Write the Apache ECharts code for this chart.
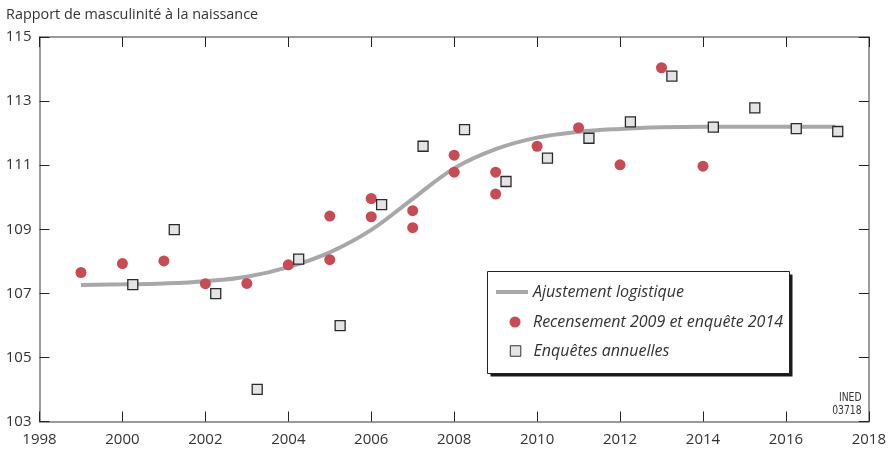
<!DOCTYPE html>
<html>
<head>
<meta charset="utf-8">
<script src="https://cdn.jsdelivr.net/npm/echarts@6/dist/echarts.min.js"></script>
<style>html,body{margin:0;padding:0;background:#fff}#c{width:889px;height:450px}</style>
</head>
<body>
<div id="c"></div>
<script>
var yTicks = [103, 105, 107, 109, 111, 113, 115];
var xTicks = [1998, 2000, 2002, 2004, 2006, 2008, 2010, 2012, 2014, 2016, 2018];

var fitYears = [1999, 2000, 2001, 2002, 2003, 2004, 2005, 2006, 2007, 2008, 2009, 2010, 2011, 2012, 2013, 2014, 2015, 2016, 2017.2];
var fitValues = [107.26, 107.28, 107.31, 107.38, 107.52, 107.82, 108.28, 108.98, 109.95, 110.9, 111.5, 111.86, 112.04, 112.13, 112.18, 112.2, 112.2, 112.2, 112.2];

var censusYears = [1999, 2000, 2001, 2002, 2003, 2004, 2005, 2005, 2006, 2006, 2007, 2007, 2008, 2008, 2009, 2009, 2010, 2011, 2012, 2013, 2014];
var censusValues = [107.65, 107.93, 108.01, 107.30, 107.31, 107.89, 109.41, 108.05, 109.96, 109.39, 109.58, 109.05, 111.31, 110.78, 110.78, 110.10, 111.59, 112.17, 111.01, 114.04, 110.97];

var surveyYears = [2000.25, 2001.25, 2002.25, 2003.25, 2004.25, 2005.25, 2006.25, 2007.25, 2008.25, 2009.25, 2010.25, 2011.25, 2012.25, 2013.25, 2014.25, 2015.25, 2016.25, 2017.25];
var surveyValues = [107.27, 108.99, 106.99, 104.0, 108.07, 105.99, 109.77, 111.59, 112.11, 110.49, 111.22, 111.84, 112.35, 113.78, 112.19, 112.79, 112.14, 112.05];

var seriesNames = ['Ajustement logistique', 'Recensement 2009 et enquête 2014', 'Enquêtes annuelles'];
var titleText = 'Rapport de masculinité à la naissance';
var sourceLines = ['INED', '03718'];

function pairs(xs, ys) { return xs.map(function (x, i) { return [x, ys[i]]; }); }

var FONT = '"Open Sans", sans-serif';
var AXIS_COLOR = '#7a7a7a';
var TEXT_COLOR = '#333';
var LINE_COLOR = '#a8a8aa';
var RED = '#c64b55';
var SQ_FILL = '#e4e4e6';
var SQ_BORDER = '#2a2a2a';

var chart = echarts.init(document.getElementById('c'), null, { renderer: 'canvas' });

function xAxisCfg(pos, showLabel) {
  return {
    type: 'value', position: pos, min: xTicks[0], max: xTicks[xTicks.length - 1], interval: 2,
    axisLine: { show: true, onZero: false, lineStyle: { color: AXIS_COLOR, width: 1.5 } },
    axisTick: { show: true, inside: true, length: 10, lineStyle: { color: '#222', width: 1 } },
    axisLabel: { show: showLabel, margin: 11, color: TEXT_COLOR, fontFamily: FONT, fontSize: 15,
      formatter: function (v) { return String(v); } },
    splitLine: { show: false }
  };
}
function yAxisCfg(pos, showLabel) {
  return {
    type: 'value', position: pos, min: yTicks[0], max: yTicks[yTicks.length - 1], interval: 2,
    axisLine: { show: true, onZero: false, lineStyle: { color: AXIS_COLOR, width: 1.5 } },
    axisTick: { show: true, inside: true, length: 10, lineStyle: { color: '#222', width: 1 } },
    axisLabel: { show: showLabel, margin: 8, color: TEXT_COLOR, fontFamily: FONT, fontSize: 15,
      formatter: function (v) { return String(v); } },
    splitLine: { show: false }
  };
}

function legendCfg(name, left, top, icon, w, h, padLeft, style) {
  var cfg = {
    orient: 'vertical', left: left, top: top, padding: 0, z: 10,
    selectedMode: false, icon: icon, itemWidth: w, itemHeight: h,
    textStyle: { fontFamily: FONT, fontSize: 16, fontStyle: 'italic', color: TEXT_COLOR,
      lineHeight: 20, padding: [0, 0, 0, padLeft] },
    data: [name]
  };
  if (style) { cfg.itemStyle = style; }
  return cfg;
}

chart.setOption({
  animation: false,
  backgroundColor: '#fff',
  grid: { left: 39.5, right: 20, top: 37, bottom: 28.5, containLabel: false },
  title: {
    text: titleText, left: 6, top: 8, padding: 0,
    textStyle: { fontFamily: FONT, fontSize: 14.4, fontWeight: 'normal', color: TEXT_COLOR }
  },
  xAxis: [xAxisCfg('bottom', true), xAxisCfg('top', false)],
  yAxis: [yAxisCfg('left', true), yAxisCfg('right', false)],
  legend: [
    legendCfg(seriesNames[0], 496, 282, 'rect', 32, 4, 0, { color: LINE_COLOR }),
    legendCfg(seriesNames[1], 509.5, 312, 'circle', 11, 11, 7.5, { color: RED }),
    legendCfg(seriesNames[2], 509.8, 341, 'rect', 10.5, 10.5, 7.7, { color: SQ_FILL, borderWidth: 1, borderColor: '#333' })
  ],
  graphic: [
    { type: 'rect', z: 5, shape: { x: 490.5, y: 274.5, width: 302, height: 102 }, style: { fill: '#1a1a1a' } },
    { type: 'rect', z: 6, shape: { x: 487.5, y: 271.5, width: 302, height: 102 }, style: { fill: '#fff', stroke: '#222', lineWidth: 1 } },
    {
      type: 'text', x: 861.5, y: 391.5, scaleX: 0.82, z: 6,
      style: { text: sourceLines.join('\n'), x: 0, y: 0, fontFamily: '"DejaVu Sans Condensed", "DejaVu Sans", sans-serif', fontSize: 12.5, lineHeight: 12.5, fill: TEXT_COLOR, align: 'right', verticalAlign: 'top' }
    }
  ],
  series: [
    {
      name: seriesNames[0], type: 'line', xAxisIndex: 0, yAxisIndex: 0,
      data: pairs(fitYears, fitValues), smooth: 0.4, symbol: 'none',
      lineStyle: { color: LINE_COLOR, width: 4 }, itemStyle: { color: LINE_COLOR }, z: 2
    },
    {
      name: seriesNames[1], type: 'scatter', xAxisIndex: 0, yAxisIndex: 0,
      data: pairs(censusYears, censusValues), symbol: 'circle', symbolSize: 11,
      itemStyle: { color: RED, opacity: 1 }, z: 3
    },
    {
      name: seriesNames[2], type: 'scatter', xAxisIndex: 0, yAxisIndex: 0,
      data: pairs(surveyYears, surveyValues), symbol: 'rect', symbolSize: 10,
      itemStyle: { color: SQ_FILL, borderColor: SQ_BORDER, borderWidth: 1.3, opacity: 1 }, z: 4
    }
  ]
});
</script>
</body>
</html>
